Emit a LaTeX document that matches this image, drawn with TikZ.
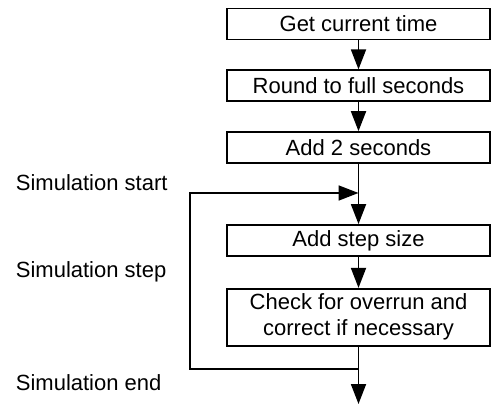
\documentclass[tikz,border=0pt]{standalone}
\usepackage{fontspec}
\setmainfont{Liberation Sans}
\usetikzlibrary{arrows.meta,positioning}

\begin{document}
\begin{tikzpicture}[x=0.5pt,y=-0.5pt,->,>={Triangle[length=10pt,width=7.5pt]},line width=0.9pt,
        font=\fontsize{11}{13}\selectfont,
        stepbox/.style={rectangle,draw,minimum width=131.5pt,minimum height=15.5pt,
          inner sep=0pt,align=center},
        label/.style={anchor=west,inner sep=0pt}]
      \useasboundingbox (0,0) rectangle (491,405);

      \node[stepbox] (time) at (358.5,24) {Get current time};
      \node[stepbox] (round) [below=14.5pt of time] {Round to full seconds};
      \node[stepbox] (add2) [below=14.5pt of round] {Add 2 seconds};
      \node[stepbox] (addstep) at (358.5,240.5) {Add step size};
      \node[stepbox,minimum height=28.5pt] (check) [below=15.5pt of addstep]
        {Check for overrun and\\correct if necessary};

      \coordinate (loopin) at (358.5,193);
      \coordinate (loopout) at (358.5,369);
      \coordinate (loopcorner) at (190,193);
      \coordinate (simend) at (358.5,404);

      \node[label] (lstart) at (15,183) {Simulation start};
      \node[label] (lstep) at (15,272) {Simulation step};
      \node[label] (lend) at (15,383) {Simulation end};

      \draw (time) -- (round);
      \draw (round) -- (add2);
      \draw (add2) -- (addstep);
      \draw (addstep) -- (check);
      \draw[-] (check) -- (loopout);
      \draw (loopout) -- (simend);
      \draw (loopout) -| (loopcorner) -- (loopin);
      \end{tikzpicture}
\end{document}
